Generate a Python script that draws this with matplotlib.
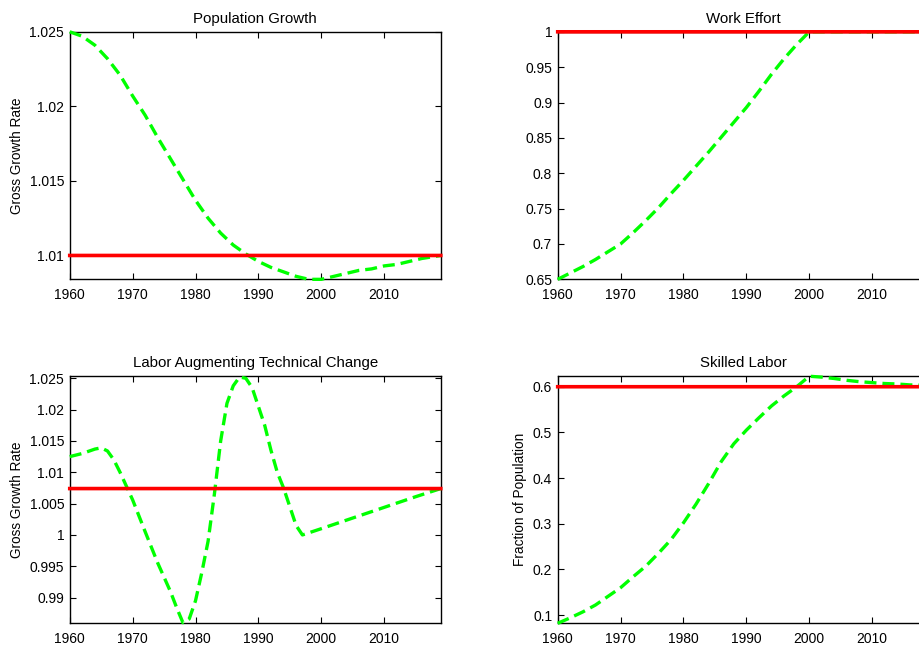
import numpy as np
import matplotlib
matplotlib.use('Agg')
import matplotlib.pyplot as plt
from matplotlib.ticker import FormatStrFormatter, MultipleLocator

plt.rcParams['font.family'] = ['Liberation Sans', 'DejaVu Sans']
plt.rcParams['font.size'] = 10

# population growth
pop_years = [1960, 1962, 1964, 1966, 1968, 1970, 1972, 1974, 1976, 1978, 1980, 1982, 1984,
             1986, 1988, 1990, 1992, 1994, 1996, 1998, 2000, 2002, 2004, 2006, 2008, 2010,
             2012, 2014, 2016, 2019]
pop_vals = [1.0250, 1.0247, 1.0241, 1.0232, 1.0221, 1.0207, 1.0194, 1.0179, 1.0165, 1.0151,
            1.0137, 1.0125, 1.0115, 1.0107, 1.0101, 1.0096, 1.0092, 1.0089, 1.0086, 1.0084,
            1.0084, 1.0086, 1.0088, 1.0090, 1.0091, 1.0093, 1.0094, 1.0096, 1.0098, 1.0100]
pop_target = 1.01

# work effort
work_years = [1960, 1962, 1964, 1966, 1968, 1970, 1972, 1974, 1976, 1978, 1980, 1982, 1984,
              1986, 1988, 1990, 1992, 1994, 1996, 1998, 2000, 2005, 2010, 2019]
work_vals = [0.650, 0.659, 0.668, 0.678, 0.689, 0.700, 0.716, 0.733, 0.751, 0.771, 0.790,
             0.810, 0.830, 0.851, 0.872, 0.893, 0.916, 0.940, 0.962, 0.982, 1.000, 1.000,
             1.000, 1.000]
work_target = 1.0

# labor augmenting technical change
tech_years = [1960, 1962, 1964, 1965, 1966, 1967, 1968, 1969, 1970, 1972, 1974, 1976, 1977,
              1978, 1979, 1980, 1981, 1982, 1983, 1984, 1985, 1986, 1987, 1988, 1989, 1990,
              1991, 1992, 1993, 1994, 1995, 1996, 1997, 2000, 2005, 2010, 2015, 2019]
tech_vals = [1.0125, 1.0130, 1.0137, 1.0139, 1.0134, 1.0120, 1.0100, 1.0078, 1.0056, 1.0005,
             0.9955, 0.9910, 0.9884, 0.9860, 0.9866, 0.9895, 0.9940, 0.9990, 1.0065, 1.0150,
             1.0210, 1.0238, 1.0252, 1.0250, 1.0235, 1.0205, 1.0175, 1.0135, 1.0100, 1.0075,
             1.0045, 1.0015, 1.0000, 1.0010, 1.0027, 1.0044, 1.0061, 1.0074]
tech_target = 1.0074

# skilled labor
skill_years = [1960, 1962, 1964, 1966, 1968, 1970, 1972, 1974, 1976, 1978, 1980, 1982, 1984,
               1986, 1988, 1990, 1992, 1994, 1996, 1998, 2000, 2002, 2004, 2006, 2008, 2010,
               2012, 2014, 2016, 2019]
skill_vals = [0.082, 0.094, 0.107, 0.122, 0.141, 0.160, 0.184, 0.207, 0.235, 0.265, 0.302,
              0.343, 0.388, 0.436, 0.475, 0.505, 0.532, 0.558, 0.580, 0.600, 0.623, 0.621,
              0.618, 0.614, 0.611, 0.609, 0.607, 0.606, 0.604, 0.603]
skill_target = 0.6

panels = [
    # (rect, title, ylabel, years, vals, target, ylim, ystep)
    ([0.0758, 0.5696, 0.4033, 0.3814], 'Population Growth', 'Gross Growth Rate',
     pop_years, pop_vals, pop_target, (1.0084, 1.025), 0.005),
    ([0.6062, 0.5696, 0.4033, 0.3814], 'Work Effort', None,
     work_years, work_vals, work_target, (0.65, 1.0), 0.05),
    ([0.0758, 0.0396, 0.4033, 0.3814], 'Labor Augmenting Technical Change', 'Gross Growth Rate',
     tech_years, tech_vals, tech_target, (0.9859, 1.0254), 0.005),
    ([0.6062, 0.0396, 0.4033, 0.3814], 'Skilled Labor', 'Fraction of Population',
     skill_years, skill_vals, skill_target, (0.082, 0.624), 0.1),
]

fig = plt.figure(figsize=(9.2, 6.49), dpi=100)

for rect, title, ylabel, years, vals, target, ylim, ystep in panels:
    ax = fig.add_axes(rect)
    ax.plot(years, vals, color='#00ff00', linewidth=2.4, dashes=(3.6, 1.8),
            clip_on=False, zorder=3, snap=False)
    ax.plot([1960, 2019], [target, target], color='#ff0000', linewidth=2.6,
            clip_on=False, zorder=4, snap=False)
    ax.set_xlim(1960, 2019)
    ax.set_ylim(*ylim)
    ax.xaxis.set_major_locator(MultipleLocator(10))
    ax.yaxis.set_major_locator(MultipleLocator(ystep))
    ax.yaxis.set_major_formatter(FormatStrFormatter('%g'))
    ax.tick_params(direction='in', top=True, right=True, length=4, width=0.8,
                   labelsize=10)
    ax.tick_params(axis='x', pad=6)
    ax.tick_params(axis='y', pad=4)
    for sp in ax.spines.values():
        sp.set_linewidth(1.0)
    ax.set_title(title, fontsize=10.8, pad=6)
    if ylabel:
        ax.set_ylabel(ylabel, fontsize=9.8)

plt.savefig('out.png', dpi=100)
